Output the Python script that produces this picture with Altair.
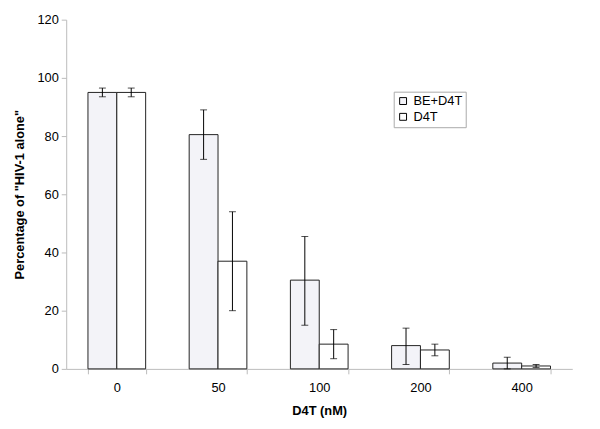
import altair as alt
import pandas as pd

concs = ["0", "50", "100", "200", "400"]
series_names = ["BE+D4T", "D4T"]
be_d4t = [95.0, 80.5, 30.5, 8.0, 2.0]
be_d4t_lo = [93.5, 72.0, 15.0, 1.5, 0.0]
be_d4t_hi = [96.5, 89.0, 45.5, 14.0, 4.0]
d4t = [95.0, 37.0, 8.5, 6.5, 1.0]
d4t_lo = [93.5, 20.0, 3.5, 4.5, 0.5]
d4t_hi = [96.5, 54.0, 13.5, 8.5, 1.5]

rows = []
for i, c in enumerate(concs):
    rows.append({"conc": c, "series": "BE+D4T", "value": be_d4t[i], "lo": be_d4t_lo[i], "hi": be_d4t_hi[i]})
    rows.append({"conc": c, "series": "D4T", "value": d4t[i], "lo": d4t_lo[i], "hi": d4t_hi[i]})
df = pd.DataFrame(rows)

FONT = "Liberation Sans"

x = alt.X("conc:N", sort=concs,
          scale=alt.Scale(paddingInner=0.43, paddingOuter=0.215),
          axis=alt.Axis(title="D4T (nM)", labelAngle=0, tickBand="extent",
                        labelFontSize=13, titleFontSize=13, titleFontWeight="bold",
                        labelPadding=8, titlePadding=10,
                        domainColor="#bbbbbb", tickColor="#bbbbbb", tickSize=5,
                        labelColor="#000000", titleColor="#000000"))
xo = alt.XOffset("series:N", sort=series_names)

bars = alt.Chart(df).mark_bar(stroke="#222222", strokeWidth=1).encode(
    x=x, xOffset=xo,
    y=alt.Y("value:Q", scale=alt.Scale(domain=[0, 120]),
            axis=alt.Axis(title='Percentage of "HIV-1 alone"', values=[0, 20, 40, 60, 80, 100, 120],
                          grid=False, labelFontSize=13, titleFontSize=13, titleFontWeight="bold",
                          titlePadding=11, labelPadding=3,
                          domainColor="#bbbbbb", tickColor="#bbbbbb", tickSize=5,
                          labelColor="#000000", titleColor="#000000")),
    fill=alt.Fill("series:N", sort=series_names,
                  scale=alt.Scale(domain=series_names, range=["#f3f3f8", "#ffffff"]),
                  legend=alt.Legend(title=None, orient="none", legendX=332, legendY=73,
                                    symbolType="square", symbolSize=49,
                                    symbolStrokeColor="#000000", symbolStrokeWidth=1,
                                    labelFontSize=13, labelFont=FONT, labelColor="#000000",
                                    labelOffset=4, strokeColor="#aaaaaa", padding=3,
                                    rowPadding=2, symbolOpacity=1)),
)

rules = alt.Chart(df).mark_rule(color="#000000", strokeWidth=1).encode(
    x=x, xOffset=xo, y="lo:Q", y2="hi:Q")
caps_lo = alt.Chart(df).mark_tick(color="#000000", thickness=1, size=7).encode(
    x=x, xOffset=xo, y="lo:Q")
caps_hi = alt.Chart(df).mark_tick(color="#000000", thickness=1, size=7).encode(
    x=x, xOffset=xo, y="hi:Q")

chart = alt.layer(bars, rules, caps_lo, caps_hi).properties(
    width=513, height=354,
    autosize=alt.AutoSizeParams(type="none"),
    padding={"left": 59, "top": 9, "right": 20, "bottom": 50},
).configure_view(stroke=None).configure_axis(labelFont=FONT, titleFont=FONT)

chart.save("out.html", embed_options={"renderer": "svg", "actions": False})
